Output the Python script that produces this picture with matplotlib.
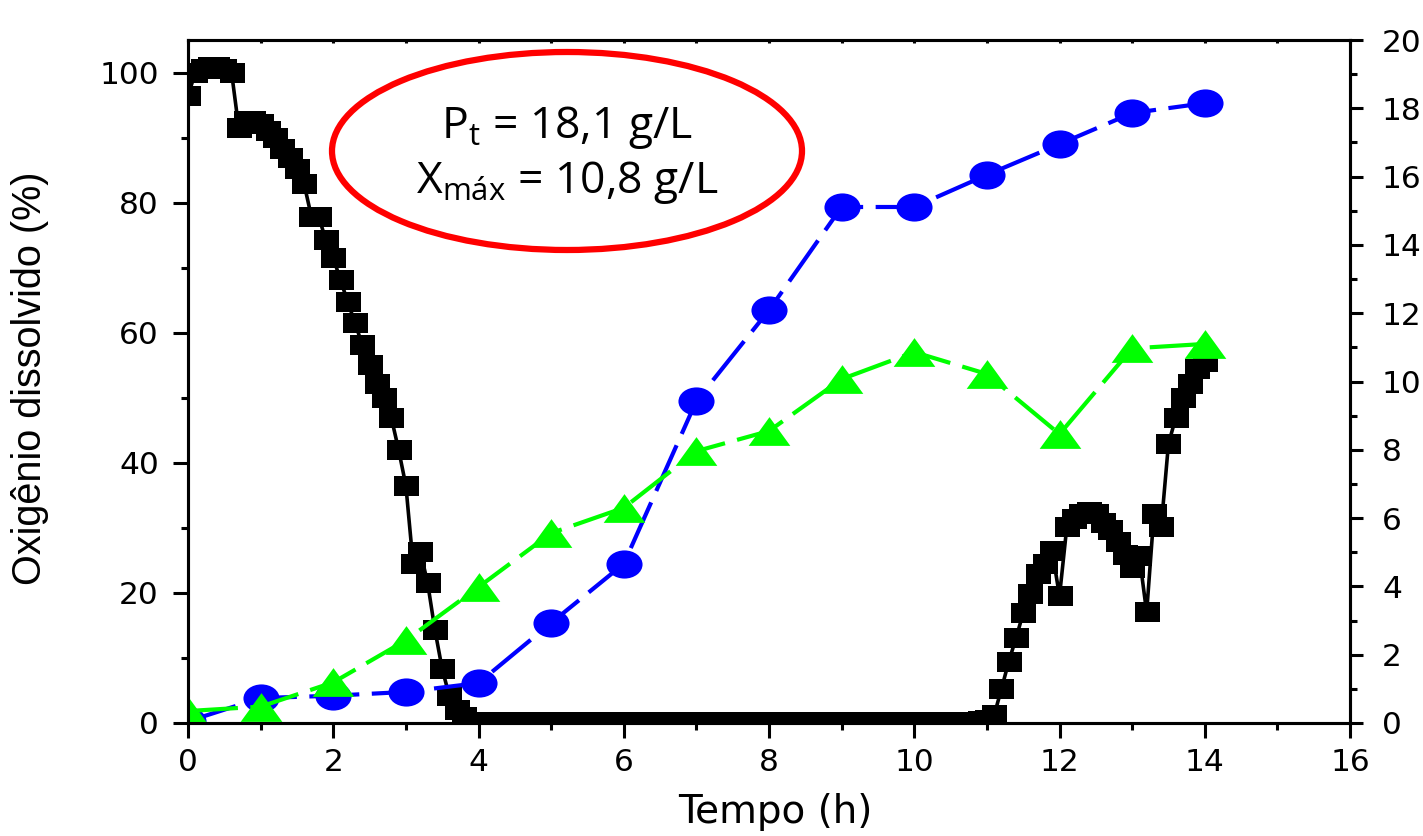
import numpy as np
import matplotlib
matplotlib.use("Agg")
import matplotlib.pyplot as plt
from matplotlib.path import Path
from matplotlib.patches import Ellipse
from matplotlib.ticker import MultipleLocator

# dissolved oxygen (%), logged every 0.1 h from 0 to 14 h
do_vals = [
    96.4, 100.0, 100.5, 100.8, 100.8, 100.5, 100.0,
    91.4, 92.6, 92.6, 92.1, 91.0, 89.9, 88.3, 86.8, 85.1, 82.8,
    77.8, 77.8, 74.2, 71.5, 68.1, 64.7, 61.5, 58.1, 55.1, 52.1,
    50.0, 46.9, 42.0, 36.5, 24.4, 26.3, 21.5, 14.3, 8.3, 4.1,
    2.0, 0.9, 0.2,
    0.1, 0.1, 0.1, 0.1, 0.1, 0.1, 0.1, 0.1, 0.1, 0.1,
    0.1, 0.1, 0.1, 0.1, 0.1, 0.1, 0.1, 0.1, 0.1, 0.1,
    0.1, 0.1, 0.1, 0.1, 0.1, 0.1, 0.1, 0.1, 0.1, 0.1,
    0.1, 0.1, 0.1, 0.1, 0.1, 0.1, 0.1, 0.1, 0.1, 0.1,
    0.1, 0.1, 0.1, 0.1, 0.1, 0.1, 0.1, 0.1, 0.1, 0.1,
    0.1, 0.1, 0.1, 0.1, 0.1, 0.1, 0.1, 0.1, 0.1, 0.1,
    0.1, 0.1, 0.1, 0.1, 0.1, 0.1, 0.1, 0.1, 0.2, 0.3,
    0.5, 1.2, 5.2, 9.4, 13.0, 16.9, 19.9, 22.9, 24.4, 26.4,
    19.5, 30.1, 31.4, 32.2, 32.5, 32.2, 30.8, 29.6, 27.9, 25.8,
    23.9, 25.6, 17.0, 32.1, 30.1, 42.9, 46.9, 50.0, 52.1, 54.4,
    55.5,
]
do_time = np.round(np.arange(len(do_vals)) * 0.1, 1)

# hourly samples (g/L), right axis
sample_time = [0, 1, 2, 3, 4, 5, 6, 7, 8, 9, 10, 11, 12, 13, 14]
product = [0.05, 0.73, 0.8, 0.91, 1.17, 2.93, 4.66, 9.43, 12.09, 15.11, 15.11, 16.05, 16.95, 17.86, 18.15]
biomass = [0.35, 0.48, 1.19, 2.42, 3.98, 5.56, 6.3, 7.96, 8.55, 10.07, 10.86, 10.22, 8.46, 10.97, 11.1]

W, H = 1423, 836
fig = plt.figure(figsize=(W / 100, H / 100), dpi=100)
ax = fig.add_axes([188 / W, 1 - 723 / H, (1350 - 188) / W, (723 - 40) / H])
ax2 = ax.twinx()

# slightly wide markers, as in the original
sq = Path([(-1, -0.8), (1, -0.8), (1, 0.8), (-1, 0.8), (-1, -0.8)], closed=True)
circ = Path.unit_circle()
ell = Path(circ.vertices * [1, 0.78], circ.codes)
tri = Path([(0, 0.69), (-1, -0.69), (1, -0.69), (0, 0.69)], closed=True)

ax.plot(do_time, do_vals, color="black", lw=2.6, marker=sq, ms=18, mew=0)
ax2.plot(sample_time, product, color="#0000ff", lw=3, dashes=(12, 3),
         marker=ell, ms=26, mew=0)
ax2.plot(sample_time, biomass, color="#00ff00", lw=3, dashes=(12, 3),
         marker=tri, ms=30, mew=0)

ax.set_xlim(0, 16)
ax.set_ylim(0, 105)
ax2.set_ylim(0, 20)

ax.xaxis.set_major_locator(MultipleLocator(2))
ax.xaxis.set_minor_locator(MultipleLocator(1))
ax.yaxis.set_major_locator(MultipleLocator(20))
ax.yaxis.set_minor_locator(MultipleLocator(10))
ax2.yaxis.set_major_locator(MultipleLocator(2))
ax2.yaxis.set_minor_locator(MultipleLocator(1))

for a in (ax, ax2):
    for s in a.spines.values():
        s.set_linewidth(2.2)
ax.tick_params(axis="both", which="major", direction="out", length=11, width=2.2,
               labelsize=22.5)
ax.tick_params(axis="both", which="minor", direction="out", length=5, width=2.2)
ax.tick_params(axis="y", pad=10)
ax.tick_params(axis="x", pad=7)
ax2.tick_params(axis="y", which="major", direction="out", length=9, width=2.2,
                labelsize=22.5, pad=14)
ax2.tick_params(axis="y", which="minor", direction="out", length=5, width=2.2)

top = ax.secondary_xaxis("top")
top.xaxis.set_major_locator(MultipleLocator(1))
top.tick_params(direction="in", length=2, width=2.2, labeltop=False)

fig.text(30 / W, 1 - 378 / H, "Oxigênio dissolvido (%)", rotation=90,
         ha="center", va="center", fontsize=28.5, family="Liberation Sans")
fig.text(775 / W, 1 - 812 / H, "Tempo (h)", ha="center", va="center", fontsize=28)

fig.add_artist(Ellipse((567 / W, 1 - 151 / H), 470 / W, 198 / H,
                       transform=fig.transFigure, fill=False, ec="#ff0000", lw=4.5))
fig.text(567 / W, 1 - 138 / H, r"$\mathregular{P_t}$ = 18,1 g/L", ha="center",
         va="baseline", fontsize=32, family="Open Sans")
fig.text(567 / W, 1 - 193 / H, r"$\mathregular{X_{máx}}$ = 10,8 g/L", ha="center",
         va="baseline", fontsize=32, family="Open Sans")

fig.savefig("out.png", dpi=100)
